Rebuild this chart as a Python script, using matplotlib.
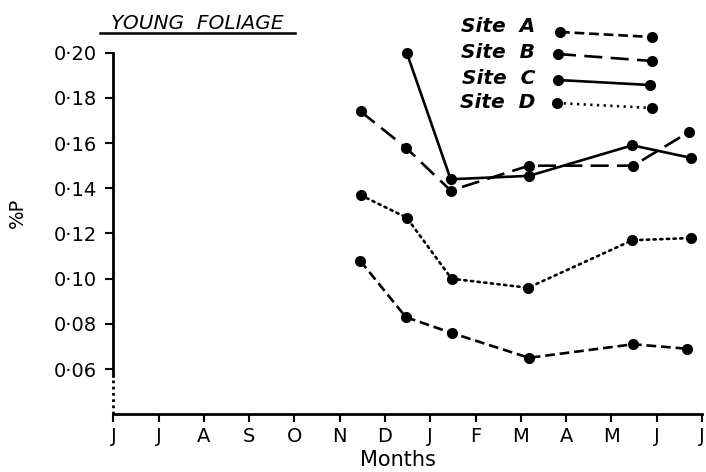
import matplotlib
matplotlib.use("Agg")
import matplotlib.pyplot as plt

# months from June (0) to July of the following year (13)
month_labels = ["J", "J", "A", "S", "O", "N", "D", "J", "F", "M", "A", "M", "J", "J"]
yticks = [0.06, 0.08, 0.10, 0.12, 0.14, 0.16, 0.18, 0.20]

site_a_x = [5.45, 6.46, 7.47, 9.18, 11.48, 12.68]
site_a_y = [0.108, 0.083, 0.076, 0.065, 0.071, 0.069]
site_b_x = [5.46, 6.46, 7.45, 9.18, 11.48, 12.72]
site_b_y = [0.174, 0.158, 0.139, 0.150, 0.150, 0.165]
site_c_x = [6.48, 7.45, 9.18, 11.46, 12.75]
site_c_y = [0.200, 0.144, 0.1455, 0.159, 0.1535]
site_d_x = [5.46, 6.48, 7.47, 9.16, 11.46, 12.75]
site_d_y = [0.137, 0.127, 0.100, 0.096, 0.117, 0.118]

plt.rcParams["lines.scale_dashes"] = False

fig = plt.figure(figsize=(7.06, 4.72), dpi=100)
ax = fig.add_axes([0.1605, 0.1222, 0.8338, 0.7662])

lw = 1.9
ms = 7
styles = {
    "A": (0, (7, 3.5)),
    "B": (0, (13, 6)),
    "C": "-",
    "D": (0, (1.6, 3.2)),
}
series = [("A", site_a_x, site_a_y), ("B", site_b_x, site_b_y),
          ("C", site_c_x, site_c_y), ("D", site_d_x, site_d_y)]
for name, xs, ys in series:
    ax.plot(xs, ys, color="black", lw=lw, ls=styles[name], marker="o",
            ms=ms, dash_capstyle="round" if name == "D" else "butt",
            clip_on=False)

ax.set_xlim(0, 13)
ax.set_ylim(0.04, 0.20)
ax.set_xticks(range(len(month_labels)))
ax.set_xticklabels(month_labels, fontsize=14)
ax.set_yticks(yticks)
ax.set_yticklabels([("%.2f" % v).replace(".", "\u00b7") for v in yticks], fontsize=14)
ax.tick_params(direction="out", length=6, width=1.5, pad=3)
ax.tick_params(axis="y", pad=6)

for s in ["top", "right"]:
    ax.spines[s].set_visible(False)
ax.spines["bottom"].set_linewidth(2)
ax.spines["left"].set_linewidth(2)
ax.spines["left"].set_bounds(0.057, 0.20)
# broken axis section below 0.06
ax.plot([0, 0], [0.04, 0.057], color="black", lw=2, ls=(0, (2, 2.5)), clip_on=False)

fig.text(398 / 706, 1 - 460 / 472, "Months", fontsize=15, ha="center", va="center")
fig.text(0.025, 0.55, "%P", rotation=90, fontsize=14, ha="center", va="center")

# title, underlined
fig.text(0.279, 0.950, "YOUNG  FOLIAGE", fontsize=14.5, style="italic",
         ha="center", va="center")
fig.add_artist(plt.Line2D([100 / 706, 295 / 706], [1 - 33 / 472, 1 - 33 / 472],
                          color="black", lw=1.8))

# hand-drawn legend at the top right
W, H = 706.0, 472.0
legend_rows = [("A", 27, (560, 32), (652, 37)),
               ("B", 53, (558, 54), (652, 61)),
               ("C", 78, (558, 80), (650, 85)),
               ("D", 102, (557, 103), (652, 108))]
for name, ty, p0, p1 in legend_rows:
    fig.text(535 / W, 1 - ty / H, "Site  " + name, fontsize=14.5, style="italic",
             weight="bold", ha="right", va="center")
    fig.add_artist(plt.Line2D([p0[0] / W, p1[0] / W], [1 - p0[1] / H, 1 - p1[1] / H],
                              color="black", lw=lw, ls=styles[name], marker="o",
                              ms=ms))

fig.savefig("out.png", dpi=100)
